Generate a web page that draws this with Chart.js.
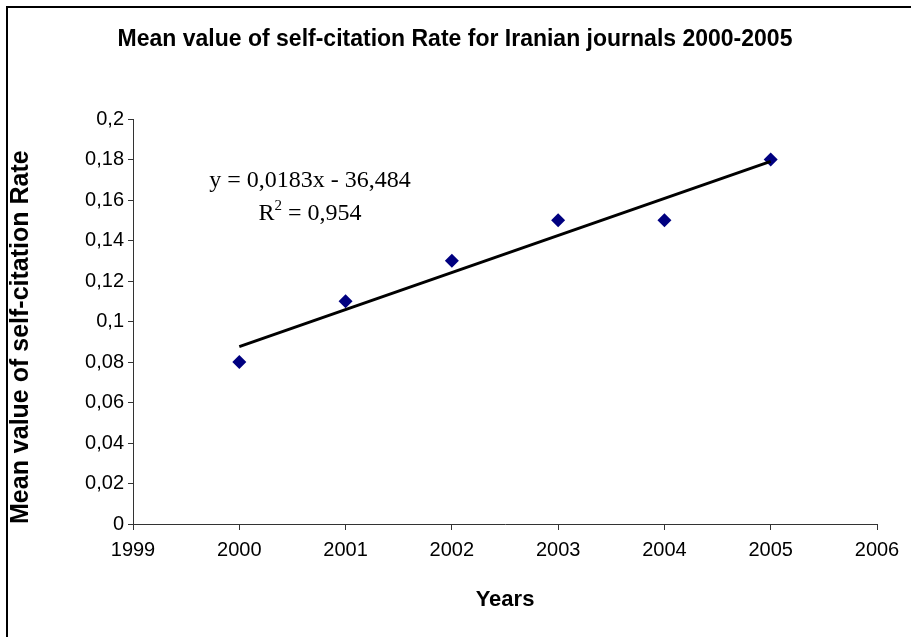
<!DOCTYPE html>
<html>
<head>
<meta charset="utf-8">
<script src="https://cdn.jsdelivr.net/npm/chart.js@4.4.1/dist/chart.umd.min.js"></script>
<style>
  html, body { margin: 0; padding: 0; background: #fff; }
  canvas { display: block; }
</style>
</head>
<body>
<canvas id="myChart" width="911" height="637"></canvas>
<script>
// data
const years = [2000, 2001, 2002, 2003, 2004, 2005];
const rates = [0.08, 0.11, 0.13, 0.15, 0.15, 0.18];
const yearTicks = [1999, 2000, 2001, 2002, 2003, 2004, 2005, 2006];
const rateTicks = [0, 0.02, 0.04, 0.06, 0.08, 0.1, 0.12, 0.14, 0.16, 0.18, 0.2];
const chartTitle = 'Mean value of self-citation Rate for Iranian journals 2000-2005';
const eqText = 'y = 0,0183x - 36,484';
const r2Text = '0,954';

// least squares trend line through the points
let n = years.length;
let mx = years.reduce((a, b) => a + b, 0) / n;
let my = rates.reduce((a, b) => a + b, 0) / n;
let sxy = 0, sxx = 0;
for (let i = 0; i < n; i++) {
    sxy += (years[i] - mx) * (rates[i] - my);
    sxx += (years[i] - mx) * (years[i] - mx);
}
let slope = sxy / sxx;
let icpt = my - slope * mx;
let trend = [years[0], years[n - 1]].map(x => ({ x: x, y: icpt + slope * x }));

Chart.defaults.font.family = '"Liberation Sans", Arial, sans-serif';
Chart.defaults.color = '#000';

const sans = '"Liberation Sans", Arial, sans-serif';
const serif = '"Liberation Serif", "Times New Roman", serif';

// frame, title and equation text
const extras = {
    id: 'extras',
    beforeDraw(chart) {
        let c = chart.ctx;
        c.save();
        c.fillStyle = '#fff';
        c.fillRect(0, 0, chart.width, chart.height);
        c.strokeStyle = '#000';
        c.lineWidth = 2;
        c.strokeRect(7, 7, 1000, 1000);
        c.restore();
    },
    afterDraw(chart) {
        let c = chart.ctx;
        c.save();
        c.fillStyle = '#000';
        c.textBaseline = 'middle';
        c.textAlign = 'center';
        c.font = 'bold 23px ' + sans;
        c.fillText(chartTitle, 455, 40);

        c.font = '24px ' + serif;
        c.fillText(eqText, 310, 181);
        // R² line
        let a = 'R', b = ' = ' + r2Text;
        let wa = c.measureText(a).width, wb = c.measureText(b).width;
        c.font = '15px ' + serif;
        let ws = c.measureText('2').width;
        let x0 = 310 - (wa + ws + wb) / 2;
        c.textAlign = 'left';
        c.fillText('2', x0 + wa, 206);
        c.font = '24px ' + serif;
        c.fillText(a, x0, 214);
        c.fillText(b, x0 + wa + ws, 214);
        c.restore();
    }
};

const ctx = document.getElementById('myChart');
new Chart(ctx, {
    type: 'scatter',
    data: {
        datasets: [{
            type: 'line',
            data: trend,
            borderColor: '#000',
            borderWidth: 3,
            pointRadius: 0,
            fill: false,
            order: 0
        }, {
            data: years.map((y, i) => ({ x: y, y: rates[i] })),
            pointStyle: 'rectRot',
            pointRadius: 7,
            backgroundColor: '#000080',
            borderColor: '#000080',
            borderWidth: 0,
            order: 1
        }]
    },
    options: {
        responsive: false,
        animation: false,
        devicePixelRatio: 1,
        layout: { padding: { left: 0, right: 34, top: 119, bottom: 0 } },
        plugins: {
            legend: { display: false },
            tooltip: { enabled: false },
            title: { display: false }
        },
        scales: {
            x: {
                type: 'linear',
                min: 1999,
                max: 2006,
                afterBuildTicks: s => { s.ticks = yearTicks.map(v => ({ value: v })); },
                afterFit: s => { s.height = 113; },
                ticks: {
                    font: { size: 20 },
                    color: '#000',
                    padding: 8,
                    maxRotation: 0,
                    callback: v => String(v)
                },
                grid: { drawOnChartArea: false, drawTicks: true, tickLength: 6, color: '#333' },
                border: { color: '#333', width: 1 },
                title: {
                    display: true,
                    text: 'Years',
                    font: { size: 22, weight: 'bold' },
                    color: '#000',
                    padding: { top: 0, bottom: 24 }
                }
            },
            y: {
                min: 0,
                max: 0.2,
                afterBuildTicks: s => { s.ticks = rateTicks.map(v => ({ value: v })); },
                afterFit: s => { s.width = 133; },
                ticks: {
                    font: { size: 20 },
                    color: '#000',
                    padding: 4,
                    callback: v => String(Number(v.toFixed(2))).replace('.', ',')
                },
                grid: { drawOnChartArea: false, drawTicks: true, tickLength: 5, color: '#333' },
                border: { color: '#333', width: 1 },
                title: {
                    display: true,
                    text: 'Mean value of self-citation Rate',
                    align: 'start',
                    font: { size: 25, weight: 'bold' },
                    color: '#000',
                    padding: { top: 6, bottom: 0 }
                }
            }
        }
    },
    plugins: [extras]
});
</script>
</body>
</html>
